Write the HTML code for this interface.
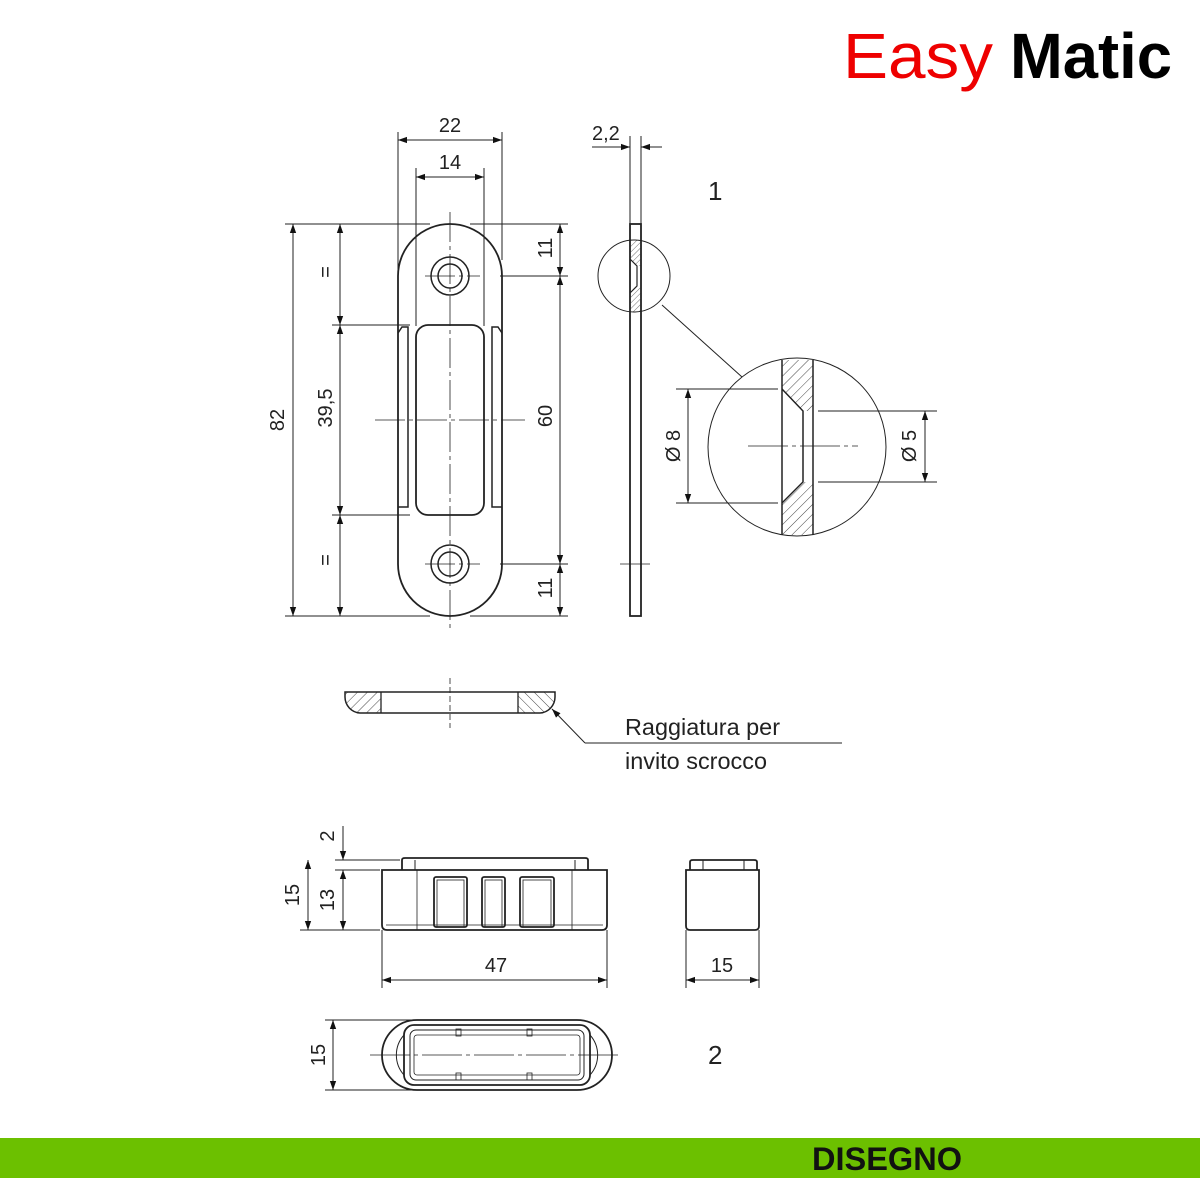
<!DOCTYPE html>
<html><head><meta charset="utf-8"><style>
html,body{margin:0;padding:0;background:#fff;}
svg{display:block;}
text{font-family:"Liberation Sans",sans-serif;fill:#222;}
</style></head><body>
<svg width="1200" height="1200" viewBox="0 0 1200 1200" xmlns="http://www.w3.org/2000/svg">
<defs>
<marker id="a" viewBox="0 0 10 10" refX="10" refY="5" markerWidth="9" markerHeight="9" orient="auto-start-reverse" markerUnits="userSpaceOnUse"><path d="M0,1.5 L10,5 L0,8.5Z" fill="#111"/></marker>
<pattern id="h" width="7" height="7" patternUnits="userSpaceOnUse" patternTransform="rotate(45)"><line x1="0" y1="0" x2="0" y2="7" stroke="#333" stroke-width="0.9"/></pattern>
<pattern id="h2" width="7" height="7" patternUnits="userSpaceOnUse" patternTransform="rotate(-45)"><line x1="0" y1="0" x2="0" y2="7" stroke="#333" stroke-width="0.9"/></pattern>
<pattern id="hs" width="4" height="4" patternUnits="userSpaceOnUse" patternTransform="rotate(45)"><line x1="0" y1="0" x2="0" y2="4" stroke="#333" stroke-width="0.7"/></pattern>
</defs>
<text x="843" y="78" font-size="64" style="fill:#ee0000" textLength="150" lengthAdjust="spacingAndGlyphs">Easy</text>
<text x="1010" y="78" font-size="64" font-weight="bold" style="fill:#000" textLength="162" lengthAdjust="spacingAndGlyphs">Matic</text>

<g stroke="#222" fill="none" stroke-width="1">
<line x1="398" y1="132" x2="398" y2="326"/><line x1="502" y1="132" x2="502" y2="260"/>
<line x1="416" y1="168" x2="416" y2="326"/><line x1="484" y1="168" x2="484" y2="326"/>
<line x1="285" y1="224" x2="430" y2="224"/><line x1="470" y1="224" x2="568" y2="224"/>
<line x1="285" y1="616" x2="430" y2="616"/><line x1="470" y1="616" x2="568" y2="616"/>
<line x1="332" y1="325" x2="410" y2="325"/><line x1="332" y1="515" x2="410" y2="515"/>
<line x1="500" y1="276" x2="568" y2="276"/><line x1="500" y1="564" x2="568" y2="564"/>
<line x1="398" y1="140" x2="502" y2="140" marker-start="url(#a)" marker-end="url(#a)"/>
<line x1="416" y1="177" x2="484" y2="177" marker-start="url(#a)" marker-end="url(#a)"/>
<line x1="293" y1="224" x2="293" y2="616" marker-start="url(#a)" marker-end="url(#a)"/>
<line x1="340" y1="224" x2="340" y2="325" marker-start="url(#a)" marker-end="url(#a)"/>
<line x1="340" y1="325" x2="340" y2="515" marker-start="url(#a)" marker-end="url(#a)"/>
<line x1="340" y1="515" x2="340" y2="616" marker-start="url(#a)" marker-end="url(#a)"/>
<line x1="560" y1="224" x2="560" y2="276" marker-start="url(#a)" marker-end="url(#a)"/>
<line x1="560" y1="276" x2="560" y2="564" marker-start="url(#a)" marker-end="url(#a)"/>
<line x1="560" y1="564" x2="560" y2="616" marker-start="url(#a)" marker-end="url(#a)"/>
<path d="M398,276 A52,52 0 0 1 502,276 L502,564 A52,52 0 0 1 398,564 Z" stroke-width="1.8"/>
<rect x="416" y="325" width="68" height="190" rx="12" stroke-width="1.8"/>
<path d="M398,333 L402,327 L408,327 L408,507 L398,507" stroke-width="1.5"/>
<path d="M502,333 L498,327 L492,327 L492,507 L502,507" stroke-width="1.5"/>
<circle cx="450" cy="276" r="19" stroke-width="1.5"/><circle cx="450" cy="276" r="12" stroke-width="1.5"/>
<circle cx="450" cy="564" r="19" stroke-width="1.5"/><circle cx="450" cy="564" r="12" stroke-width="1.5"/>
<g stroke-width="0.8" stroke-dasharray="30,4,4,4">
<line x1="450" y1="212" x2="450" y2="628"/>
<line x1="375" y1="420" x2="525" y2="420"/>
<line x1="425" y1="276" x2="480" y2="276"/><line x1="425" y1="564" x2="480" y2="564"/>
</g>
<line x1="630" y1="136" x2="630" y2="224"/><line x1="641" y1="136" x2="641" y2="224"/>
<line x1="592" y1="147" x2="630" y2="147" marker-end="url(#a)"/>
<line x1="662" y1="147" x2="641" y2="147" marker-end="url(#a)"/>
<rect x="630" y="224" width="11" height="392" stroke-width="1.8"/>
<path d="M630,240 L641,240 L641,266 L637,266 L630,259 Z M630,312 L641,312 L641,286 L637,286 L630,293 Z" fill="url(#hs)" stroke="none"/>
<path d="M630,259 L637,266 L637,286 L630,293" stroke-width="1.2"/>
<line x1="620" y1="564" x2="650" y2="564" stroke-width="0.8"/>
<circle cx="634" cy="276" r="36"/>
<line x1="662" y1="305" x2="742" y2="377"/>
<circle cx="797" cy="447" r="89"/>
<path d="M782,360 L813,360 L813,411 L803,411 L782,389 Z" fill="url(#h)" stroke="none"/>
<path d="M782,535 L813,535 L813,482 L803,482 L782,503 Z" fill="url(#h)" stroke="none"/>
<line x1="782" y1="360" x2="782" y2="535" stroke-width="1.5"/>
<line x1="813" y1="360" x2="813" y2="535" stroke-width="1.5"/>
<path d="M782,389 L803,411 L803,482 L782,503" stroke-width="1.5"/>
<line x1="676" y1="389" x2="778" y2="389"/><line x1="676" y1="503" x2="778" y2="503"/>
<line x1="818" y1="411" x2="937" y2="411"/><line x1="818" y1="482" x2="937" y2="482"/>
<line x1="688" y1="389" x2="688" y2="503" marker-start="url(#a)" marker-end="url(#a)"/>
<line x1="925" y1="411" x2="925" y2="482" marker-start="url(#a)" marker-end="url(#a)"/>
<line x1="748" y1="446" x2="858" y2="446" stroke-width="0.8" stroke-dasharray="40,4,4,4"/>
<path d="M345,692 L381,692 L381,713 L360,713 A15,15 0 0 1 345,697 Z" fill="url(#h)" stroke="none"/>
<path d="M555,692 L518,692 L518,713 L540,713 A15,15 0 0 0 555,697 Z" fill="url(#h2)" stroke="none"/>
<path d="M345,692 L555,692 L555,697 A16,16 0 0 1 540,713 L360,713 A16,16 0 0 1 345,697 Z" stroke-width="1.5"/>
<line x1="381" y1="692" x2="381" y2="713" stroke-width="1.3"/><line x1="518" y1="692" x2="518" y2="713" stroke-width="1.3"/>
<line x1="450" y1="678" x2="450" y2="728" stroke-width="0.8" stroke-dasharray="6,3"/>
<line x1="842" y1="743" x2="585" y2="743"/>
<line x1="585" y1="743" x2="552" y2="709" marker-end="url(#a)"/>
<line x1="335" y1="860" x2="400" y2="860"/><line x1="335" y1="870" x2="380" y2="870"/>
<line x1="300" y1="930" x2="380" y2="930"/>
<line x1="343" y1="826" x2="343" y2="860" marker-end="url(#a)"/>
<line x1="343" y1="870" x2="343" y2="930" marker-start="url(#a)" marker-end="url(#a)"/>
<line x1="308" y1="860" x2="308" y2="930" marker-start="url(#a)" marker-end="url(#a)"/>
<path d="M402,870 L402,860 Q402,858 405,858 L585,858 Q588,858 588,860 L588,870" stroke-width="1.8"/>
<line x1="415" y1="860" x2="415" y2="870"/><line x1="575" y1="860" x2="575" y2="870"/>
<path d="M382,870 L607,870 L607,925 Q607,930 602,930 L387,930 Q382,930 382,925 Z" stroke-width="1.8"/>
<line x1="417" y1="870" x2="417" y2="930" stroke-width="0.8"/><line x1="572" y1="870" x2="572" y2="930" stroke-width="0.8"/>
<line x1="386" y1="925" x2="603" y2="925" stroke-width="0.8"/>
<rect x="434" y="877" width="33" height="50" rx="2" stroke-width="1.8"/><rect x="437" y="880" width="27" height="47" stroke-width="0.8"/>
<rect x="482" y="877" width="23" height="50" rx="2" stroke-width="1.8"/><rect x="485" y="880" width="17" height="47" stroke-width="0.8"/>
<rect x="520" y="877" width="34" height="50" rx="2" stroke-width="1.8"/><rect x="523" y="880" width="28" height="47" stroke-width="0.8"/>
<line x1="382" y1="930" x2="382" y2="988"/><line x1="607" y1="930" x2="607" y2="988"/>
<line x1="382" y1="980" x2="607" y2="980" marker-start="url(#a)" marker-end="url(#a)"/>
<path d="M690,870 L690,862 Q690,860 693,860 L754,860 Q757,860 757,862 L757,870" stroke-width="1.8"/>
<line x1="703" y1="860" x2="703" y2="870"/><line x1="744" y1="860" x2="744" y2="870"/>
<path d="M686,870 L759,870 L759,926 Q759,930 755,930 L690,930 Q686,930 686,926 Z" stroke-width="1.8"/>
<line x1="686" y1="930" x2="686" y2="988"/><line x1="759" y1="930" x2="759" y2="988"/>
<line x1="686" y1="980" x2="759" y2="980" marker-start="url(#a)" marker-end="url(#a)"/>
<line x1="325" y1="1020" x2="420" y2="1020"/><line x1="325" y1="1090" x2="420" y2="1090"/>
<line x1="333" y1="1020" x2="333" y2="1090" marker-start="url(#a)" marker-end="url(#a)"/>
<rect x="382" y="1020" width="230" height="70" rx="35" stroke-width="1.8"/>
<rect x="404" y="1025" width="186" height="60" rx="10" stroke-width="1.8"/>
<rect x="410" y="1030" width="174" height="50" rx="6" stroke-width="1"/>
<rect x="414" y="1035" width="166" height="40" rx="3" stroke-width="0.8"/>
<path d="M404,1035 A30,30 0 0 0 404,1075" stroke-width="1"/>
<path d="M590,1035 A30,30 0 0 1 590,1075" stroke-width="1"/>
<rect x="456" y="1029" width="5" height="7" stroke-width="0.8"/><rect x="527" y="1029" width="5" height="7" stroke-width="0.8"/>
<rect x="456" y="1073" width="5" height="7" stroke-width="0.8"/><rect x="527" y="1073" width="5" height="7" stroke-width="0.8"/>
<line x1="370" y1="1055" x2="622" y2="1055" stroke-width="0.8" stroke-dasharray="40,4,4,4"/>
</g>
<g font-size="20">
<text x="450" y="132" text-anchor="middle">22</text>
<text x="450" y="169" text-anchor="middle">14</text>
<text x="592" y="140">2,2</text>
<text x="708" y="200" font-size="26">1</text>
<text x="284" y="420" text-anchor="middle" transform="rotate(-90 284 420)">82</text>
<text x="332" y="408" text-anchor="middle" transform="rotate(-90 332 408)">39,5</text>
<text x="332" y="272" text-anchor="middle" transform="rotate(-90 332 272)">=</text>
<text x="332" y="560" text-anchor="middle" transform="rotate(-90 332 560)">=</text>
<text x="552" y="416" text-anchor="middle" transform="rotate(-90 552 416)">60</text>
<text x="552" y="248" text-anchor="middle" transform="rotate(-90 552 248)">11</text>
<text x="552" y="588" text-anchor="middle" transform="rotate(-90 552 588)">11</text>
<text x="680" y="446" text-anchor="middle" transform="rotate(-90 680 446)">Ø 8</text>
<text x="916" y="446" text-anchor="middle" transform="rotate(-90 916 446)">Ø 5</text>
<text x="625" y="735" font-size="23" textLength="155" lengthAdjust="spacingAndGlyphs">Raggiatura per</text>
<text x="625" y="769" font-size="23" textLength="142" lengthAdjust="spacingAndGlyphs">invito scrocco</text>
<text x="334" y="836" text-anchor="middle" transform="rotate(-90 334 836)">2</text>
<text x="299" y="895" text-anchor="middle" transform="rotate(-90 299 895)">15</text>
<text x="334" y="900" text-anchor="middle" transform="rotate(-90 334 900)">13</text>
<text x="496" y="972" text-anchor="middle">47</text>
<text x="722" y="972" text-anchor="middle">15</text>
<text x="325" y="1055" text-anchor="middle" transform="rotate(-90 325 1055)">15</text>
<text x="708" y="1064" font-size="26">2</text>
</g>
<rect x="0" y="1138" width="1200" height="40" fill="#6cc000"/>
<text x="812" y="1170" font-size="32" font-weight="bold" style="fill:#111" textLength="150" lengthAdjust="spacingAndGlyphs">DISEGNO</text>
</svg>
</body></html>
